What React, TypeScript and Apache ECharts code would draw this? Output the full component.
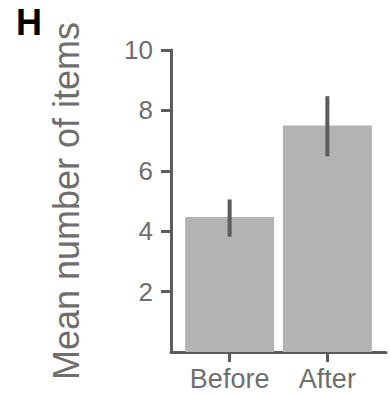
import React, { useEffect, useRef } from "react";
import * as echarts from "echarts";

const categories = ["Before", "After"];
const means = [4.47, 7.5];
const errLow = [3.82, 6.48];
const errHigh = [5.05, 8.47];
const yTicks = [2, 4, 6, 8, 10];
const panelLabel = "H";
const yTitle = "Mean number of items";

const FONT = "'Liberation Sans', Arial, Helvetica, sans-serif";
const AXIS = "#5c5c5c";
const TEXT = "#6e6e6e";

export default function App() {
  const ref = useRef<HTMLDivElement>(null);
  useEffect(() => {
    if (!ref.current) return;
    const chart = echarts.init(ref.current, null, { renderer: "svg" });
    const pos = categories.map((_, i) => i + 1);
    chart.setOption({
      animation: false,
      backgroundColor: "#ffffff",
      title: {
        text: panelLabel,
        left: 16,
        top: 4,
        padding: 0,
        textStyle: { fontFamily: FONT, fontWeight: "bold", fontSize: 36, color: "#000" },
      },
      grid: { left: 171, right: 4, top: 50, bottom: 42, containLabel: false },
      xAxis: {
        type: "value",
        min: 0.4,
        max: 2.6,
        splitLine: { show: false },
        axisLine: { show: true, lineStyle: { color: AXIS, width: 3 } },
        axisTick: { show: true, customValues: pos, length: 10, lineStyle: { color: AXIS, width: 3 } },
        axisLabel: {
          customValues: pos,
          formatter: (v: number) => categories[Math.round(v) - 1] ?? "",
          margin: 13,
          fontSize: 27,
          fontFamily: FONT,
          color: TEXT,
        },
      },
      yAxis: {
        type: "value",
        min: 0,
        max: 10,
        interval: 2,
        name: yTitle,
        nameLocation: "middle",
        nameRotate: 90,
        nameGap: 87,
        nameTextStyle: { fontSize: 36, fontFamily: FONT, color: TEXT },
        splitLine: { show: false },
        axisLine: { show: true, lineStyle: { color: AXIS, width: 3 } },
        axisTick: { show: true, customValues: yTicks, length: 10, lineStyle: { color: AXIS, width: 3 } },
        axisLabel: {
          customValues: yTicks,
          margin: 18,
          fontSize: 26,
          fontFamily: FONT,
          color: TEXT,
        },
      },
      series: [
        {
          type: "bar",
          data: pos.map((p, i) => [p, means[i]]),
          barWidth: 89,
          itemStyle: { color: "#b3b3b3" },
          z: 2,
        },
        {
          type: "custom",
          data: pos.map((p, i) => [p, errLow[i], errHigh[i]]),
          z: 5,
          renderItem: (params: any, api: any) => {
            const x = api.value(0);
            const a = api.coord([x, api.value(1)]);
            const b = api.coord([x, api.value(2)]);
            return {
              type: "line",
              shape: { x1: a[0], y1: a[1], x2: b[0], y2: b[1] },
              style: { stroke: AXIS, lineWidth: 4 },
            };
          },
        },
      ],
    });
    return () => chart.dispose();
  }, []);
  return (
    <div
      ref={ref}
      style={{ position: "fixed", left: 0, top: 0, width: 390, height: 394, background: "#fff" }}
    />
  );
}
